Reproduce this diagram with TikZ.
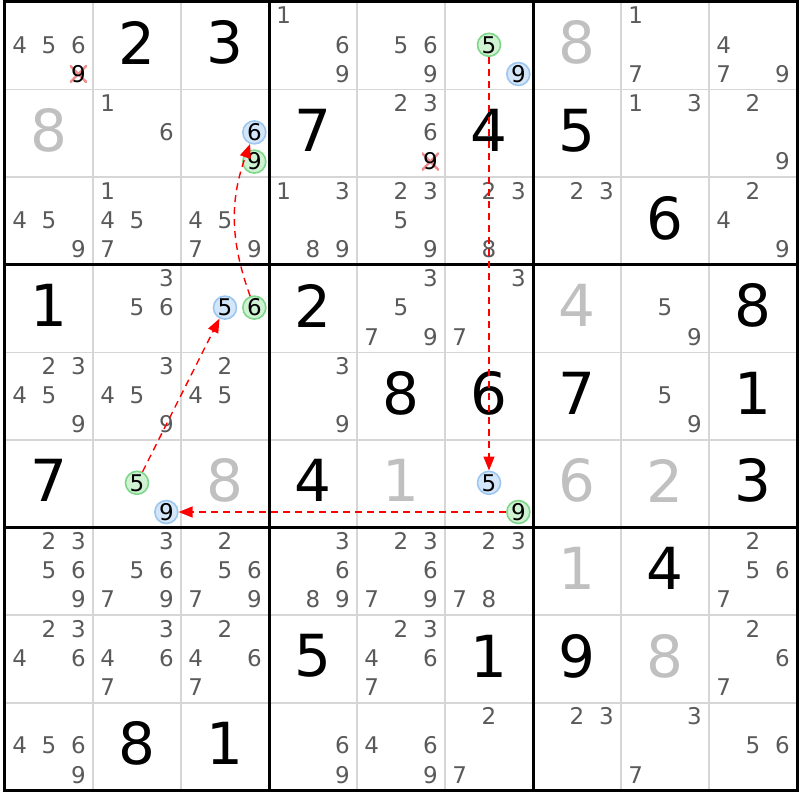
\documentclass[tikz,border=0pt]{standalone}
\usepackage{fontspec}
\setmainfont{DejaVu Sans}
\usetikzlibrary{arrows.meta}

\definecolor{candgrey}{HTML}{5A5A5A}
\definecolor{solvedgrey}{HTML}{C0C0C0}
\definecolor{gridgrey}{HTML}{D6D6D6}
\definecolor{greenfill}{HTML}{CFF2D2}
\definecolor{greendraw}{HTML}{7ED68A}
\definecolor{bluefill}{HTML}{D4E6FA}
\definecolor{bluedraw}{HTML}{9CC6F0}
\definecolor{crosspink}{HTML}{F08C8C}

\tikzset{
	thinline/.style={gridgrey, line width=1.5pt},
	boxline/.style={black, line width=3pt, line cap=rect},
	given/.style={font=\fontsize{58}{58}\selectfont, text=black, inner sep=0pt, yshift=3pt},
	solved/.style={given, text=solvedgrey},
	cand/.style={font=\fontsize{23}{23}\selectfont, text=candgrey, inner sep=0pt, yshift=1pt},
	greencand/.style={cand, text=black, circle, draw=greendraw, fill=greenfill, line width=1.6pt, minimum size=23pt},
	bluecand/.style={greencand, draw=bluedraw, fill=bluefill},
	crossed/.style={cand, text=black, minimum width=17pt, minimum height=17pt,
		path picture={\draw[crosspink, line width=2.4pt]
			(path picture bounding box.south west) -- (path picture bounding box.north east)
			(path picture bounding box.north west) -- (path picture bounding box.south east);}},
	link/.style={red, line width=1.4pt, dash pattern=on 7pt off 5pt, -{Triangle[length=14pt,width=11pt]}},
}

\begin{document}
\begin{tikzpicture}[x=29.3333pt, y=-29.2pt]
	\useasboundingbox (-5pt,2pt) rectangle (795pt,-798pt);

	\foreach \i in {1,2,4,5,7,8} {
		\draw[thinline] (3*\i,0) -- (3*\i,27);
		\draw[thinline] (0,3*\i) -- (27,3*\i);
	}
	\foreach \i in {0,3,6,9} {
		\draw[boxline] (3*\i,0) -- (3*\i,27);
		\draw[boxline] (0,3*\i) -- (27,3*\i);
	}

	\foreach \r/\c/\v in {1/2/2, 1/3/3, 2/4/7, 2/6/4, 2/7/5, 3/8/6, 4/1/1, 4/4/2, 4/9/8,
		5/5/8, 5/6/6, 5/7/7, 5/9/1, 6/1/7, 6/4/4, 6/9/3, 7/8/4, 8/4/5, 8/6/1, 8/7/9,
		9/2/8, 9/3/1}
		\node[given] (g\r\c) at (3*\c-1.5,3*\r-1.5) {\v};

	\foreach \r/\c/\v in {1/7/8, 2/1/8, 4/7/4, 6/3/8, 6/5/1, 6/7/6, 6/8/2, 7/7/1, 8/8/8}
		\node[solved] (s\r\c) at (3*\c-1.5,3*\r-1.5) {\v};

	\foreach \r/\c/\ks in {1/1/{4,5,6}, 1/4/{1,6,9}, 1/5/{5,6,9}, 1/8/{1,7}, 1/9/{4,7,9},
		2/2/{1,6}, 2/5/{2,3,6}, 2/8/{1,3}, 2/9/{2,9},
		3/1/{4,5,9}, 3/2/{1,4,5,7}, 3/3/{4,5,7,9}, 3/4/{1,3,8,9}, 3/5/{2,3,5,9},
		3/6/{2,3,8}, 3/7/{2,3}, 3/9/{2,4,9},
		4/2/{3,5,6}, 4/5/{3,5,7,9}, 4/6/{3,7}, 4/8/{5,9},
		5/1/{2,3,4,5,9}, 5/2/{3,4,5,9}, 5/3/{2,4,5}, 5/4/{3,9}, 5/8/{5,9},
		7/1/{2,3,5,6,9}, 7/2/{3,5,6,7,9}, 7/3/{2,5,6,7,9}, 7/4/{3,6,8,9},
		7/5/{2,3,6,7,9}, 7/6/{2,3,7,8}, 7/9/{2,5,6,7},
		8/1/{2,3,4,6}, 8/2/{3,4,6,7}, 8/3/{2,4,6,7}, 8/5/{2,3,4,6,7}, 8/9/{2,6,7},
		9/1/{4,5,6,9}, 9/4/{6,9}, 9/5/{4,6,9}, 9/6/{2,7}, 9/7/{2,3}, 9/8/{3,7}, 9/9/{5,6}}
		\foreach \k in \ks
			\node[cand] (c\r\c\k) at ({3*(\c-1)+mod(\k-1,3)+0.5},{3*(\r-1)+floor((\k-0.5)/3)+0.5}) {\k};

	\node[crossed] (r1c1n9) at (2.5,2.5) {9};
	\node[crossed] (r2c5n9) at (14.5,5.5) {9};

	\node[greencand] (r1c6n5) at (16.5,1.5) {5};
	\node[bluecand] (r1c6n9) at (17.5,2.5) {9};
	\node[bluecand] (r2c3n6) at (8.5,4.5) {6};
	\node[greencand] (r2c3n9) at (8.5,5.5) {9};
	\node[bluecand] (r4c3n5) at (7.5,10.5) {5};
	\node[greencand] (r4c3n6) at (8.5,10.5) {6};
	\node[greencand] (r6c2n5) at (4.5,16.5) {5};
	\node[bluecand] (r6c2n9) at (5.5,17.5) {9};
	\node[bluecand] (r6c6n5) at (16.5,16.5) {5};
	\node[greencand] (r6c6n9) at (17.5,17.5) {9};

	\draw[link] (r1c6n5) -- (r6c6n5);
	\draw[link] (r6c6n9) -- (r6c2n9);
	\draw[link] (r6c2n5) -- (r4c3n5);
	\draw[link] (r4c3n6) to[bend left=20] (r2c3n6);
\end{tikzpicture}
\end{document}
